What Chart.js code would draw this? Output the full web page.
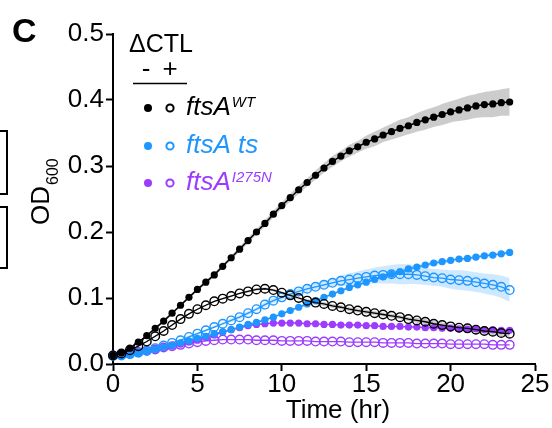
<!DOCTYPE html>
<html>
<head>
<meta charset="utf-8">
<script src="https://cdn.jsdelivr.net/npm/chart.js@4.4.1/dist/chart.umd.min.js"></script>
<style>
  html, body { margin: 0; padding: 0; background: #ffffff; }
  #wrap { width: 552px; height: 428px; }
</style>
</head>
<body>
<div id="wrap"><canvas id="c" width="552" height="428"></canvas></div>
<script>
// ---- data ----
const timeHr = [0,0.5,1,1.5,2,2.5,3,3.5,4,4.5,5,5.5,6,6.5,7,7.5,8,8.5,9,9.5,10,10.5,11,11.5,12,12.5,13,13.5,14,14.5,15,15.5,16,16.5,17,17.5,18,18.5,19,19.5,20,20.5,21,21.5,22,22.5,23,23.5];

const wtMinus = [0.013,0.017,0.024,0.033,0.043,0.054,0.065,0.077,0.089,0.101,0.113,0.124,0.135,0.148,0.161,0.174,0.187,0.200,0.213,0.227,0.240,0.252,0.264,0.275,0.286,0.297,0.307,0.315,0.323,0.329,0.336,0.341,0.347,0.352,0.357,0.361,0.366,0.370,0.374,0.378,0.382,0.385,0.388,0.391,0.393,0.394,0.396,0.397];
const wtMinusErr = [0.001,0.001,0.001,0.001,0.001,0.002,0.002,0.002,0.002,0.002,0.002,0.003,0.003,0.003,0.003,0.004,0.004,0.004,0.005,0.005,0.005,0.006,0.006,0.006,0.007,0.007,0.008,0.008,0.009,0.009,0.010,0.011,0.011,0.012,0.013,0.013,0.014,0.015,0.015,0.016,0.016,0.017,0.018,0.018,0.019,0.020,0.020,0.021];

const wtPlus = [0.013,0.016,0.021,0.027,0.034,0.042,0.050,0.059,0.068,0.076,0.083,0.089,0.095,0.099,0.103,0.107,0.110,0.113,0.114,0.112,0.108,0.104,0.100,0.096,0.093,0.091,0.088,0.086,0.083,0.081,0.079,0.077,0.075,0.073,0.071,0.068,0.066,0.064,0.061,0.059,0.057,0.055,0.054,0.052,0.050,0.049,0.047,0.046];
const wtPlusErr = [0.001,0.001,0.001,0.001,0.001,0.001,0.001,0.001,0.001,0.001,0.001,0.001,0.001,0.001,0.001,0.001,0.002,0.002,0.002,0.002,0.002,0.002,0.002,0.002,0.003,0.003,0.003,0.003,0.003,0.003,0.003,0.003,0.003,0.003,0.003,0.003,0.004,0.004,0.004,0.004,0.004,0.004,0.004,0.004,0.005,0.005,0.005,0.005];

const tsMinus = [0.012,0.012,0.014,0.016,0.019,0.022,0.025,0.028,0.032,0.035,0.039,0.042,0.046,0.049,0.052,0.056,0.060,0.063,0.067,0.071,0.076,0.081,0.086,0.091,0.096,0.101,0.106,0.111,0.116,0.120,0.124,0.128,0.132,0.136,0.140,0.144,0.147,0.150,0.153,0.155,0.157,0.159,0.160,0.162,0.164,0.165,0.167,0.169];
const tsMinusErr = [0.001,0.001,0.001,0.001,0.001,0.001,0.001,0.001,0.001,0.001,0.001,0.001,0.001,0.001,0.001,0.001,0.002,0.002,0.002,0.002,0.002,0.002,0.002,0.002,0.002,0.002,0.002,0.002,0.002,0.002,0.002,0.002,0.003,0.003,0.003,0.003,0.003,0.003,0.003,0.003,0.003,0.003,0.003,0.003,0.003,0.003,0.003,0.003];

const tsPlus = [0.012,0.013,0.015,0.017,0.020,0.024,0.028,0.032,0.036,0.041,0.046,0.051,0.056,0.061,0.066,0.071,0.077,0.083,0.090,0.096,0.101,0.106,0.110,0.114,0.117,0.120,0.123,0.126,0.128,0.130,0.132,0.134,0.135,0.136,0.136,0.136,0.135,0.133,0.131,0.130,0.128,0.127,0.126,0.124,0.122,0.120,0.117,0.112];
const tsPlusErr = [0.001,0.001,0.001,0.001,0.001,0.001,0.001,0.001,0.002,0.002,0.002,0.002,0.002,0.002,0.003,0.003,0.003,0.003,0.004,0.004,0.004,0.004,0.005,0.005,0.005,0.006,0.006,0.008,0.009,0.010,0.011,0.012,0.013,0.014,0.015,0.015,0.014,0.013,0.013,0.013,0.014,0.015,0.015,0.015,0.015,0.016,0.017,0.018];

const i275Minus = [0.013,0.014,0.016,0.018,0.020,0.022,0.025,0.027,0.030,0.033,0.036,0.040,0.044,0.048,0.052,0.055,0.058,0.060,0.061,0.062,0.062,0.062,0.062,0.061,0.061,0.060,0.060,0.059,0.059,0.059,0.058,0.058,0.057,0.057,0.057,0.056,0.056,0.055,0.055,0.054,0.054,0.053,0.053,0.053,0.052,0.052,0.051,0.051];
const i275Plus = [0.013,0.014,0.016,0.018,0.020,0.022,0.025,0.027,0.029,0.031,0.033,0.035,0.036,0.037,0.037,0.037,0.037,0.036,0.036,0.036,0.035,0.035,0.035,0.035,0.034,0.034,0.034,0.034,0.033,0.033,0.033,0.033,0.032,0.032,0.032,0.032,0.031,0.031,0.031,0.031,0.030,0.030,0.030,0.030,0.030,0.029,0.029,0.029];

const xTicks = [0, 5, 10, 15, 20, 25];
const yTicks = [0.0, 0.1, 0.2, 0.3, 0.4, 0.5];

const colBlack = '#000000';
const colBlue = '#1e96ff';
const colPurple = '#9b3cff';
const FONT = "'Liberation Sans', Arial, Helvetica, sans-serif";

// ---- helpers to build library tables ----
function pts(ys, sign, err) {
  return timeHr.map((t, i) => ({ x: t, y: err ? ys[i] + sign * err[i] : ys[i] }));
}
function filledLine(label, ys, color) {
  return { label, data: pts(ys), borderColor: color, borderWidth: 1.5, backgroundColor: color,
    pointRadius: 3.6, pointBorderWidth: 0, pointBackgroundColor: color, pointHoverRadius: 3.6,
    fill: false, tension: 0, order: 0, clip: false };
}
function openLine(label, ys, color) {
  return { label, data: pts(ys), borderColor: color, borderWidth: 1.3, backgroundColor: 'rgba(0,0,0,0)',
    pointRadius: 4.3, pointBorderWidth: 1.4, pointBorderColor: color, pointBackgroundColor: 'rgba(0,0,0,0)',
    pointHoverRadius: 4.3, fill: false, tension: 0, order: 0, clip: false };
}

const datasets = [
  filledLine('ftsA WT -', wtMinus, colBlack),     // 0
  openLine('ftsA WT +', wtPlus, colBlack),        // 1
  filledLine('ftsA ts -', tsMinus, colBlue),      // 2
  openLine('ftsA ts +', tsPlus, colBlue),         // 3
  filledLine('ftsA I275N -', i275Minus, colPurple), // 4
  openLine('ftsA I275N +', i275Plus, colPurple),    // 5
];
function band(ys, err, color) {
  const upIdx = datasets.length;
  datasets.push({ label: '_up', data: pts(ys, 1, err), borderWidth: 0, pointRadius: 0, fill: false, order: 5, tension: 0.2 });
  datasets.push({ label: '_lo', data: pts(ys, -1, err), borderWidth: 0, pointRadius: 0, fill: { target: upIdx }, backgroundColor: color, order: 5, tension: 0.2 });
}
band(wtMinus, wtMinusErr, 'rgba(120,120,120,0.38)');
band(wtPlus, wtPlusErr, 'rgba(120,120,120,0.38)');
band(tsMinus, tsMinusErr, 'rgba(30,150,255,0.22)');
band(tsPlus, tsPlusErr, 'rgba(30,150,255,0.22)');

// ---- annotations plugin (panel letter, axis titles, legend, neighbour boxes) ----
const decor = {
  id: 'decor',
  afterDraw(chart) {
    const ctx = chart.ctx;
    ctx.save();
    ctx.fillStyle = '#000';
    ctx.textBaseline = 'alphabetic';
    ctx.textAlign = 'left';
    // panel letter
    ctx.font = 'bold 34px ' + FONT;
    ctx.fillText('C', 12, 42);
    // neighbour panel boxes (edge)
    ctx.strokeStyle = '#000';
    ctx.lineWidth = 2;
    ctx.beginPath();
    ctx.moveTo(0, 131); ctx.lineTo(7, 131); ctx.lineTo(7, 194); ctx.lineTo(0, 194);
    ctx.moveTo(0, 207); ctx.lineTo(7, 207); ctx.lineTo(7, 268); ctx.lineTo(0, 268);
    ctx.stroke();
    // x-axis title
    ctx.font = '26px ' + FONT;
    ctx.textAlign = 'center';
    ctx.fillText('Time (hr)', 338, 418);
    ctx.textAlign = 'left';
    // y-axis title OD600
    ctx.save();
    ctx.translate(49, 225);
    ctx.rotate(-Math.PI / 2);
    ctx.font = '26px ' + FONT;
    ctx.fillText('OD', 0, 0);
    const w = ctx.measureText('OD').width;
    ctx.font = '16px ' + FONT;
    ctx.fillText('600', w + 1, 9);
    ctx.restore();
    // legend header
    ctx.font = '25px ' + FONT;
    ctx.fillText('\u0394CTL', 129, 52);
    ctx.font = '26px ' + FONT;
    ctx.textAlign = 'center';
    ctx.fillText('-', 146, 77);
    ctx.fillText('+', 170, 77);
    ctx.textAlign = 'left';
    ctx.lineWidth = 1.5;
    ctx.beginPath(); ctx.moveTo(133, 83.5); ctx.lineTo(187, 83.5); ctx.stroke();
    // legend rows
    const rows = [
      { y: 108, color: colBlack, main: 'ftsA', sup: 'WT' },
      { y: 146, color: colBlue, main: 'ftsA ts', sup: '' },
      { y: 183, color: colPurple, main: 'ftsA', sup: 'I275N' },
    ];
    rows.forEach(r => {
      ctx.fillStyle = r.color;
      ctx.strokeStyle = r.color;
      ctx.beginPath(); ctx.arc(148, r.y, 4, 0, Math.PI * 2); ctx.fill();
      ctx.lineWidth = 2;
      ctx.beginPath(); ctx.arc(170, r.y, 3.6, 0, Math.PI * 2); ctx.stroke();
      ctx.font = 'italic 26px ' + FONT;
      ctx.fillText(r.main, 186, r.y + 7);
      if (r.sup) {
        const mw = ctx.measureText(r.main).width;
        ctx.font = 'italic 15px ' + FONT;
        ctx.fillText(r.sup, 186 + mw + 1, r.y - 1);
      }
    });
    ctx.restore();
  }
};

new Chart(document.getElementById('c'), {
  type: 'line',
  data: { datasets },
  options: {
    responsive: false,
    animation: false,
    devicePixelRatio: 1,
    layout: { padding: { left: 0, right: 17, top: 34, bottom: 0 } },
    plugins: { legend: { display: false }, tooltip: { enabled: false } },
    scales: {
      x: {
        type: 'linear', min: 0, max: 25,
        afterBuildTicks(s) { s.ticks = xTicks.map(v => ({ value: v })); },
        afterFit(s) { s.height = 64; },
        ticks: { color: '#000', font: { family: FONT, size: 26 }, padding: -2, maxRotation: 0 },
        grid: { display: true, drawOnChartArea: false, drawTicks: true, tickLength: 7, tickWidth: 2, tickColor: '#000', color: '#000' },
        border: { display: true, color: '#000', width: 2 },
        title: { display: false }
      },
      y: {
        type: 'linear', min: 0, max: 0.5,
        afterBuildTicks(s) { s.ticks = yTicks.map(v => ({ value: v })); },
        afterFit(s) { s.width = 113; },
        ticks: { color: '#000', font: { family: FONT, size: 26 }, padding: 2, callback: v => Number(v).toFixed(1) },
        grid: { display: true, drawOnChartArea: false, drawTicks: true, tickLength: 7, tickWidth: 2, tickColor: '#000', color: '#000' },
        border: { display: true, color: '#000', width: 2 }
      }
    }
  },
  plugins: [decor]
});
</script>
</body>
</html>
